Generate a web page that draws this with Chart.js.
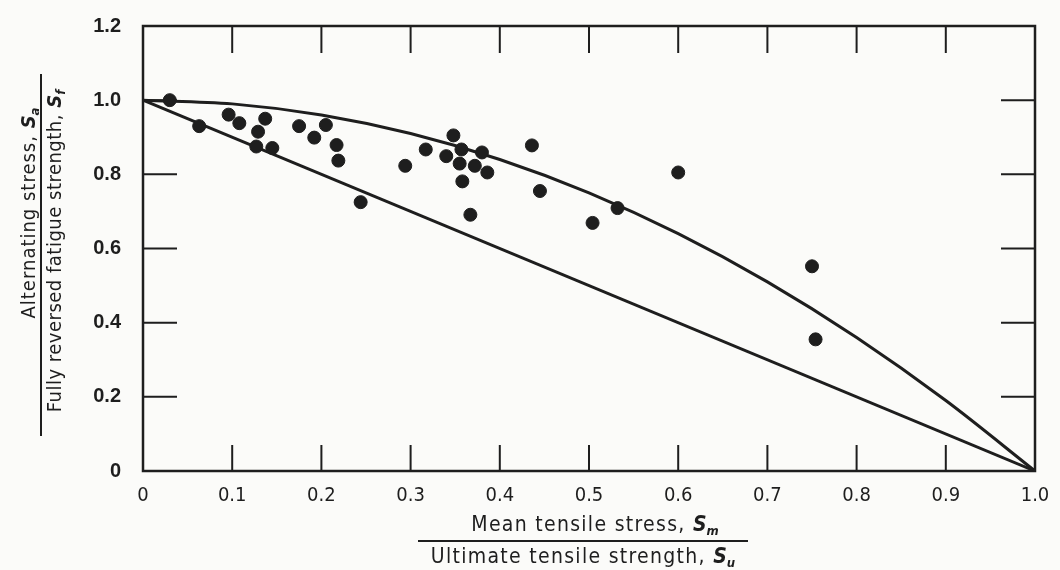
<!DOCTYPE html>
<html>
<head>
<meta charset="utf-8">
<script src="https://cdn.jsdelivr.net/npm/chart.js@4"></script>
<style>
  html, body { margin: 0; padding: 0; background: #fbfbf9; }
  #wrap { position: relative; width: 1060px; height: 570px; }
  canvas { position: absolute; left: 0; top: 0; }
  .title { position: absolute; font-family: 'DejaVu Sans Condensed', 'Liberation Sans', sans-serif; font-size: 20px; letter-spacing: 1px; color: #1e1e1e; white-space: nowrap; text-align: center; line-height: 22px; }
  .title.wide { font-size: 21px; letter-spacing: 1.3px; }
  .title i { font-weight: bold; letter-spacing: 0; }
  .title sub { font-size: 13px; vertical-align: -4px; }
  .frac-line { position: absolute; background: #1e1e1e; }
</style>
</head>
<body>
<div id="wrap">
  <canvas id="chart" width="1060" height="570"></canvas>

  <div class="title wide" style="left:395px; top:513px; width:400px;">Mean tensile stress, <i>S<sub>m</sub></i></div>
  <div class="frac-line" style="left:418px; top:540px; width:330px; height:2px;"></div>
  <div class="title wide" style="left:383px; top:545px; width:400px;">Ultimate tensile strength, <i>S<sub>u</sub></i></div>

  <div id="ytitle" style="position:absolute; left:-140px; top:231px; width:362px; height:48px; transform:rotate(-90deg); transform-origin:center;">
    <div class="title" style="left:42px; top:0; width:362px;">Alternating stress, <i>S<sub>a</sub></i></div>
    <div class="frac-line" style="left:0; top:23px; width:362px; height:2px;"></div>
    <div class="title" style="left:4px; top:26px; width:362px; letter-spacing:0.5px;">Fully reversed fatigue strength, <i>S<sub>f</sub></i></div>
  </div>
</div>

<script>
// test data, Sm/Su against Sa/Sf
const meanRatio = [0.03, 0.063, 0.096, 0.108, 0.137, 0.129, 0.127, 0.145, 0.175, 0.205, 0.192,
  0.217, 0.219, 0.244, 0.348, 0.317, 0.294, 0.357, 0.34, 0.38, 0.355, 0.372, 0.386, 0.358,
  0.367, 0.436, 0.445, 0.6, 0.532, 0.504, 0.75, 0.754];
const altRatio = [1.0, 0.93, 0.961, 0.938, 0.95, 0.915, 0.875, 0.871, 0.93, 0.933, 0.899,
  0.879, 0.837, 0.725, 0.905, 0.867, 0.823, 0.867, 0.849, 0.859, 0.829, 0.823, 0.805, 0.781,
  0.691, 0.878, 0.755, 0.805, 0.709, 0.669, 0.552, 0.355];

// upper curve (Gerber)
const gerberX = [0, 0.1, 0.2, 0.3, 0.4, 0.5, 0.6, 0.7, 0.8, 0.9, 1.0];
const gerberY = [1.0, 0.99, 0.96, 0.91, 0.84, 0.75, 0.64, 0.51, 0.36, 0.19, 0];

// lower straight line (Goodman)
const goodmanX = [0, 1.0];
const goodmanY = [1.0, 0];

const xTicks = [0, 0.1, 0.2, 0.3, 0.4, 0.5, 0.6, 0.7, 0.8, 0.9, 1.0];
const yTicks = [0, 0.2, 0.4, 0.6, 0.8, 1.0, 1.2];

const ink = '#1e1e1e';

function pairs(xs, ys) {
  return xs.map((x, i) => ({ x: x, y: ys[i] }));
}

function tickLabel(v) {
  return v === 0 ? '0' : v.toFixed(1);
}

// frame with inward ticks on all four sides
const framePlugin = {
  id: 'frame',
  beforeDatasetsDraw(chart) {
    const { ctx, chartArea: a, scales } = chart;
    ctx.save();
    ctx.strokeStyle = ink;
    ctx.lineWidth = 2.5;
    ctx.strokeRect(a.left, a.top, a.right - a.left, a.bottom - a.top);
    ctx.lineWidth = 2;
    ctx.beginPath();
    xTicks.slice(1, -1).forEach(v => {
      const px = scales.x.getPixelForValue(v);
      ctx.moveTo(px, a.bottom); ctx.lineTo(px, a.bottom - 26);
      ctx.moveTo(px, a.top); ctx.lineTo(px, a.top + 27);
    });
    yTicks.slice(1, -1).forEach(v => {
      const py = scales.y.getPixelForValue(v);
      ctx.moveTo(a.left, py); ctx.lineTo(a.left + 34, py);
      ctx.moveTo(a.right, py); ctx.lineTo(a.right - 34, py);
    });
    ctx.stroke();
    ctx.restore();
  }
};

const chart = new Chart(document.getElementById('chart'), {
  type: 'scatter',
  data: {
    datasets: [
      {
        label: 'Test data',
        data: pairs(meanRatio, altRatio),
        backgroundColor: ink,
        borderColor: ink,
        pointRadius: 6.5,
        pointHoverRadius: 6.5
      },
      {
        label: 'Gerber',
        type: 'line',
        data: pairs(gerberX, gerberY),
        borderColor: ink,
        borderWidth: 3,
        pointRadius: 0,
        fill: false,
        cubicInterpolationMode: 'monotone'
      },
      {
        label: 'Goodman',
        type: 'line',
        data: pairs(goodmanX, goodmanY),
        borderColor: ink,
        borderWidth: 3,
        pointRadius: 0,
        fill: false
      }
    ]
  },
  options: {
    responsive: false,
    animation: false,
    layout: { padding: { left: 0, right: 25, top: 21, bottom: 0 } },
    plugins: {
      legend: { display: false },
      tooltip: { enabled: false }
    },
    scales: {
      x: {
        type: 'linear',
        min: 0,
        max: 1.0,
        grid: { display: false },
        border: { display: false },
        afterFit(scale) { scale.height = 99; },
        afterBuildTicks(scale) { scale.ticks = xTicks.map(v => ({ value: v })); },
        ticks: {
          color: ink,
          padding: 5,
          maxRotation: 0,
          autoSkip: false,
          font: { family: "'DejaVu Sans Condensed', 'Liberation Sans', sans-serif", size: 20 },
          callback: tickLabel
        }
      },
      y: {
        type: 'linear',
        min: 0,
        max: 1.2,
        grid: { display: false },
        border: { display: false },
        afterFit(scale) { scale.width = 143; },
        afterBuildTicks(scale) { scale.ticks = yTicks.map(v => ({ value: v })); },
        ticks: {
          color: ink,
          padding: 14,
          autoSkip: false,
          font: { family: "'Liberation Sans', Arial, sans-serif", size: 20, weight: 'bold' },
          callback: tickLabel
        }
      }
    }
  },
  plugins: [framePlugin]
});
</script>
</body>
</html>
